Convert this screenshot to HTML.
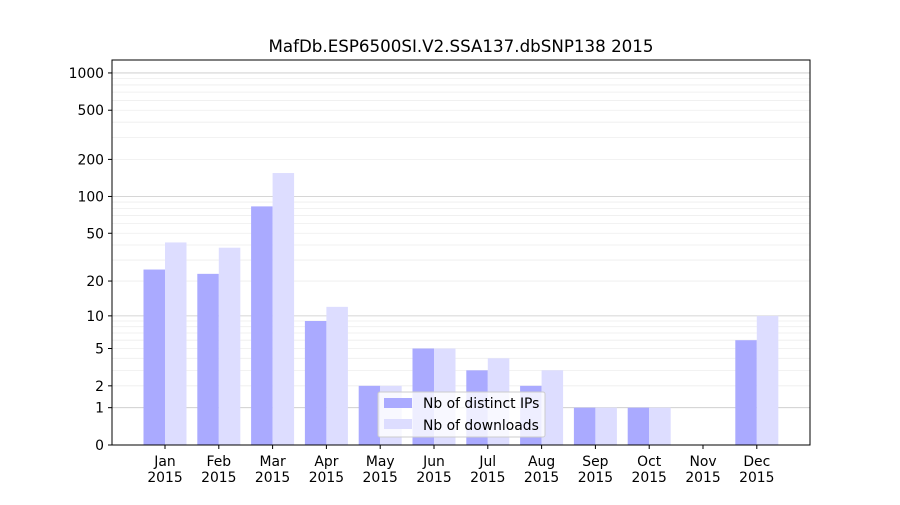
<!DOCTYPE html>
<html><head><meta charset="utf-8"><style>body{margin:0;background:#fff}</style></head>
<body>
<svg id="s" width="900" height="500" xmlns="http://www.w3.org/2000/svg" font-family="DejaVu Sans, Liberation Sans, sans-serif" font-size="13.9">
<rect width="900" height="500" fill="#fff"/>
<g id="grid"></g>
<g id="bars"></g>
<rect x="112" y="60" width="698" height="385" fill="none" stroke="#000" stroke-width="1"/>
<g id="ticks"></g>
<text x="461" y="52" text-anchor="middle" font-size="16.7">MafDb.ESP6500SI.V2.SSA137.dbSNP138 2015</text>
<rect x="378" y="392" width="167" height="45" fill="#fff" fill-opacity="0.8" stroke="#ccc" rx="2"/>
<rect x="384" y="398" width="28" height="10" fill="#aaaaff"/>
<text x="423" y="408">Nb of distinct IPs</text>
<rect x="384" y="419" width="28" height="10" fill="#ddddff"/>
<text x="423" y="430">Nb of downloads</text>
</svg>
<script>
var ns="http://www.w3.org/2000/svg";
function Y(v){return 445-124*Math.log10(1+v);}
function el(p,t,a,txt){var e=document.createElementNS(ns,t);for(var k in a)e.setAttribute(k,a[k]);if(txt!=null)e.textContent=txt;document.getElementById(p).appendChild(e);}
for(var p=1;p<=100;p*=10)for(var m=2;m<=9;m++){var y=Y(m*p);el("grid","line",{x1:112,x2:810,y1:y,y2:y,stroke:"#eeeeee","stroke-width":0.8});}
[1,10,100,1000].forEach(function(v){var y=Y(v);el("grid","line",{x1:112,x2:810,y1:y,y2:y,stroke:"#c8c8c8","stroke-width":0.8});});
var ips=[25,23,83,9,2,5,3,2,1,1,0,6],dl=[42,38,155,12,2,5,4,3,1,1,0,10];
var mon=["Jan","Feb","Mar","Apr","May","Jun","Jul","Aug","Sep","Oct","Nov","Dec"];
for(var i=0;i<12;i++){var c=165+i*53.8;
 if(ips[i]>0)el("bars","rect",{x:c-21.5,y:Y(ips[i]),width:21.5,height:445-Y(ips[i]),fill:"#aaaaff"});
 if(dl[i]>0)el("bars","rect",{x:c,y:Y(dl[i]),width:21.5,height:445-Y(dl[i]),fill:"#ddddff"});
 el("ticks","line",{x1:c,x2:c,y1:445,y2:449,stroke:"#000"});
 el("ticks","text",{x:c,y:466,"text-anchor":"middle"},mon[i]);
 el("ticks","text",{x:c,y:482,"text-anchor":"middle"},"2015");
}
[0,1,2,5,10,20,50,100,200,500,1000].forEach(function(v){var y=Y(v);
 el("ticks","line",{x1:108,x2:112,y1:y,y2:y,stroke:"#000"});
 el("ticks","text",{x:104,y:y+5,"text-anchor":"end"},String(v));});
</script>
</body></html>
